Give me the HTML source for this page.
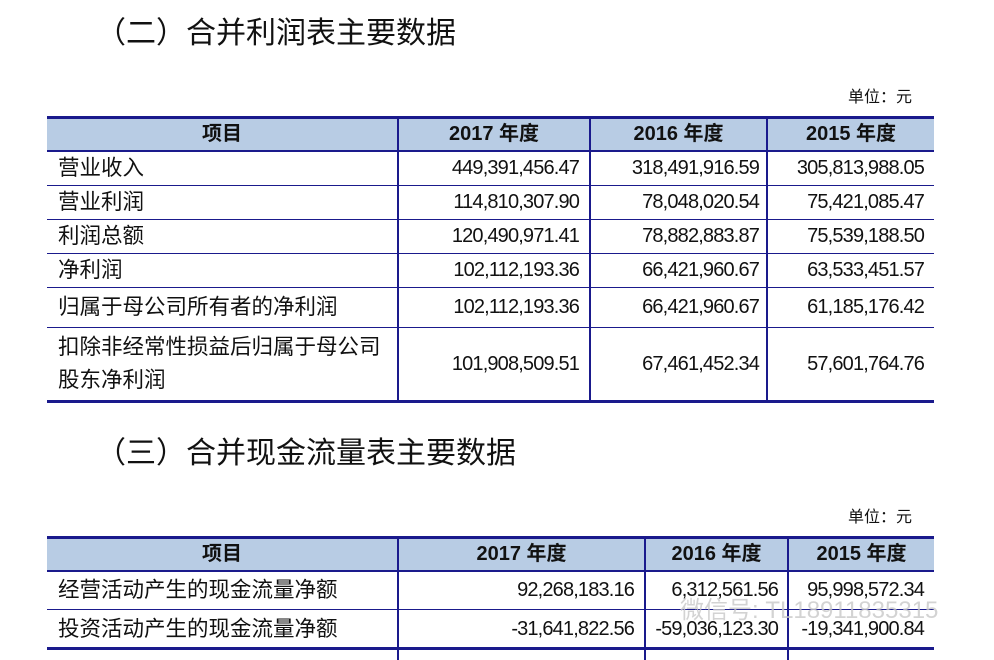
<!DOCTYPE html>
<html><head><meta charset="utf-8"><style>
body{margin:0;width:994px;height:660px;background:#fff;position:relative;overflow:hidden;font-family:"Liberation Sans","Noto Sans CJK SC",sans-serif;color:#111}
.a{position:absolute;white-space:nowrap}
.h{position:absolute;background:#b8cce4}
.l{position:absolute;background:#1a1a8c}
.t{font-size:21.5px;line-height:34px}
.n{font-size:20px;letter-spacing:-0.85px;line-height:34px;text-align:right}
.c{text-align:center;font-weight:bold;font-size:20px;line-height:34px}
.ti{font-size:30px;line-height:40px}
</style></head><body>
<div class="a ti" style="left:96px;top:14px">（二）合并利润表主要数据</div>
<div class="a" style="left:848px;top:87px;font-size:16px;line-height:22px">单位：元</div>
<div class="h" style="left:47px;top:117px;width:887px;height:34px"></div>
<div class="l" style="left:47px;top:116px;width:887px;height:3px"></div>
<div class="l" style="left:47px;top:150px;width:887px;height:2px"></div>
<div class="l" style="left:47px;top:185px;width:887px;height:1px"></div>
<div class="l" style="left:47px;top:219px;width:887px;height:1px"></div>
<div class="l" style="left:47px;top:253px;width:887px;height:1px"></div>
<div class="l" style="left:47px;top:287px;width:887px;height:1px"></div>
<div class="l" style="left:47px;top:327px;width:887px;height:1px"></div>
<div class="l" style="left:47px;top:400px;width:887px;height:3px"></div>
<div class="l" style="left:397px;top:117px;width:2px;height:285px"></div>
<div class="l" style="left:589px;top:117px;width:2px;height:285px"></div>
<div class="l" style="left:766px;top:117px;width:2px;height:285px"></div>
<div class="a c" style="left:47px;top:117px;width:350px">项目</div>
<div class="a c" style="left:399px;top:117px;width:190px">2017 年度</div>
<div class="a c" style="left:591px;top:117px;width:175px">2016 年度</div>
<div class="a c" style="left:768px;top:117px;width:166px">2015 年度</div>
<div class="a t" style="left:58px;top:151px">营业收入</div>
<div class="a t" style="left:58px;top:185px">营业利润</div>
<div class="a t" style="left:58px;top:219px">利润总额</div>
<div class="a t" style="left:58px;top:253px">净利润</div>
<div class="a t" style="left:58px;top:290px">归属于母公司所有者的净利润</div>
<div class="a t" style="left:58px;top:331px;line-height:33px">扣除非经常性损益后归属于母公司<br>股东净利润</div>
<div class="a n" style="left:399px;width:180px;top:151px">449,391,456.47</div>
<div class="a n" style="left:591px;width:168px;top:151px">318,491,916.59</div>
<div class="a n" style="left:768px;width:156px;top:151px">305,813,988.05</div>
<div class="a n" style="left:399px;width:180px;top:185px">114,810,307.90</div>
<div class="a n" style="left:591px;width:168px;top:185px">78,048,020.54</div>
<div class="a n" style="left:768px;width:156px;top:185px">75,421,085.47</div>
<div class="a n" style="left:399px;width:180px;top:219px">120,490,971.41</div>
<div class="a n" style="left:591px;width:168px;top:219px">78,882,883.87</div>
<div class="a n" style="left:768px;width:156px;top:219px">75,539,188.50</div>
<div class="a n" style="left:399px;width:180px;top:253px">102,112,193.36</div>
<div class="a n" style="left:591px;width:168px;top:253px">66,421,960.67</div>
<div class="a n" style="left:768px;width:156px;top:253px">63,533,451.57</div>
<div class="a n" style="left:399px;width:180px;top:290px">102,112,193.36</div>
<div class="a n" style="left:591px;width:168px;top:290px">66,421,960.67</div>
<div class="a n" style="left:768px;width:156px;top:290px">61,185,176.42</div>
<div class="a n" style="left:399px;width:180px;top:347px">101,908,509.51</div>
<div class="a n" style="left:591px;width:168px;top:347px">67,461,452.34</div>
<div class="a n" style="left:768px;width:156px;top:347px">57,601,764.76</div>

<div class="a ti" style="left:96px;top:434px">（三）合并现金流量表主要数据</div>
<div class="a" style="left:848px;top:507px;font-size:16px;line-height:22px">单位：元</div>
<div class="h" style="left:47px;top:537px;width:887px;height:34px"></div>
<div class="l" style="left:47px;top:536px;width:887px;height:3px"></div>
<div class="l" style="left:47px;top:570px;width:887px;height:2px"></div>
<div class="l" style="left:47px;top:609px;width:887px;height:1px"></div>
<div class="l" style="left:47px;top:647px;width:887px;height:3px"></div>
<div class="l" style="left:397px;top:537px;width:2px;height:123px"></div>
<div class="l" style="left:644px;top:537px;width:2px;height:123px"></div>
<div class="l" style="left:787px;top:537px;width:2px;height:123px"></div>
<div class="a c" style="left:47px;top:537px;width:350px">项目</div>
<div class="a c" style="left:399px;top:537px;width:245px">2017 年度</div>
<div class="a c" style="left:646px;top:537px;width:141px">2016 年度</div>
<div class="a c" style="left:789px;top:537px;width:145px">2015 年度</div>
<div class="a t" style="left:58px;top:573px">经营活动产生的现金流量净额</div>
<div class="a t" style="left:58px;top:612px">投资活动产生的现金流量净额</div>
<div class="a n" style="left:399px;width:235px;top:573px">92,268,183.16</div>
<div class="a n" style="left:646px;width:132px;top:573px">6,312,561.56</div>
<div class="a n" style="left:789px;width:135px;top:573px">95,998,572.34</div>
<div class="a n" style="left:399px;width:235px;top:612px">-31,641,822.56</div>
<div class="a n" style="left:646px;width:132px;top:612px">-59,036,123.30</div>
<div class="a n" style="left:789px;width:135px;top:612px">-19,341,900.84</div>
<div class="a" style="left:680px;top:596px;font-size:24px;line-height:30px;color:rgba(200,200,200,0.8)">微信号: TL18911835315</div>
</body></html>
